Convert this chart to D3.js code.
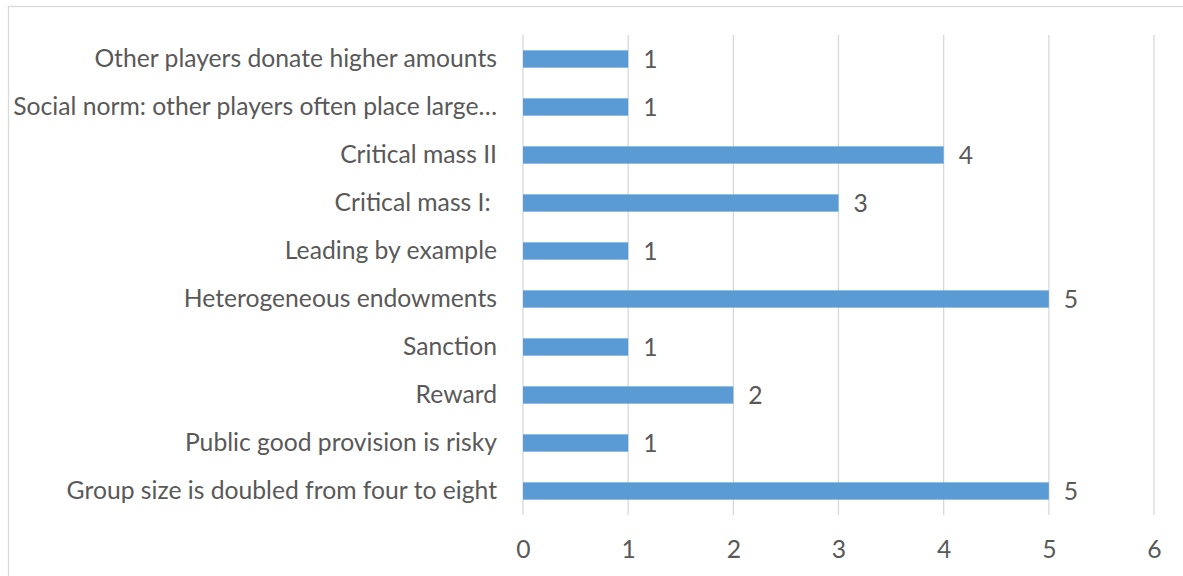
<!DOCTYPE html>
<html>
<head>
<meta charset="utf-8">
<script src="https://cdn.jsdelivr.net/npm/d3@7"></script>
<style>
  html, body { margin: 0; padding: 0; background: #ffffff; }
  svg { display: block; }
  text { font-family: Lato, "Open Sans", sans-serif; fill: #595959; }
</style>
</head>
<body>
<svg id="chart" width="1183" height="576"></svg>
<script>
// Categories, top to bottom
const categories = [
  "Other players donate higher amounts",
  "Social norm: other players often place large\u2026",
  "Critical mass II",
  "Critical mass I: ",
  "Leading by example",
  "Heterogeneous endowments",
  "Sanction",
  "Reward",
  "Public good provision is risky",
  "Group size is doubled from four to eight"
];
const counts = [1, 1, 4, 3, 1, 5, 1, 2, 1, 5];
const xTicks = [0, 1, 2, 3, 4, 5, 6];

const svg = d3.select("#chart");
const W = 1183, H = 576;
const plot = { left: 523, right: 1154, top: 35, bottom: 515 };
const fontSize = "24.7px";

// Chart-area frame
svg.append("rect")
  .attr("x", 8.5).attr("y", 6.5)
  .attr("width", W + 20).attr("height", H + 20)
  .attr("fill", "#ffffff")
  .attr("stroke", "#d9d9d9").attr("stroke-width", 1.3);

const x = d3.scaleLinear().domain([0, 6]).range([plot.left, plot.right]);
const y = d3.scaleBand().domain(categories).range([plot.top, plot.bottom]).paddingInner(0.64).paddingOuter(0.32);

// Vertical gridlines
svg.append("g")
  .selectAll("line")
  .data(xTicks)
  .join("line")
  .attr("x1", d => x(d)).attr("x2", d => x(d))
  .attr("y1", plot.top).attr("y2", plot.bottom)
  .attr("stroke", "#d9d9d9").attr("stroke-width", 1.3);

// Bars
svg.append("g")
  .selectAll("rect")
  .data(categories)
  .join("rect")
  .attr("x", x(0))
  .attr("y", d => y(d))
  .attr("width", (d, i) => x(counts[i]) - x(0))
  .attr("height", y.bandwidth())
  .attr("fill", "#5b9bd5");

// Value labels
svg.append("g")
  .selectAll("text")
  .data(categories)
  .join("text")
  .attr("x", (d, i) => x(counts[i]) + 15)
  .attr("y", d => y(d) + y.bandwidth() / 2)
  .attr("dy", "0.36em")
  .style("font-size", fontSize)
  .text((d, i) => counts[i]);

// Category axis (labels only)
const yAxis = d3.axisLeft(y).tickSize(0).tickPadding(26);
const gy = svg.append("g").attr("transform", `translate(${plot.left},0)`).call(yAxis);
gy.select(".domain").remove();
gy.selectAll("text")
  .attr("fill", "#595959")
  .style("font-family", "Lato, 'Open Sans', sans-serif")
  .style("font-size", fontSize)
  .style("white-space", "pre");

// Value axis (labels only)
const xAxis = d3.axisBottom(x).tickValues(xTicks).tickFormat(d3.format("d")).tickSize(0).tickPadding(25);
const gx = svg.append("g").attr("transform", `translate(0,${plot.bottom})`).call(xAxis);
gx.select(".domain").remove();
gx.selectAll("text")
  .attr("fill", "#595959")
  .style("font-family", "Lato, 'Open Sans', sans-serif")
  .style("font-size", fontSize);
</script>
</body>
</html>
